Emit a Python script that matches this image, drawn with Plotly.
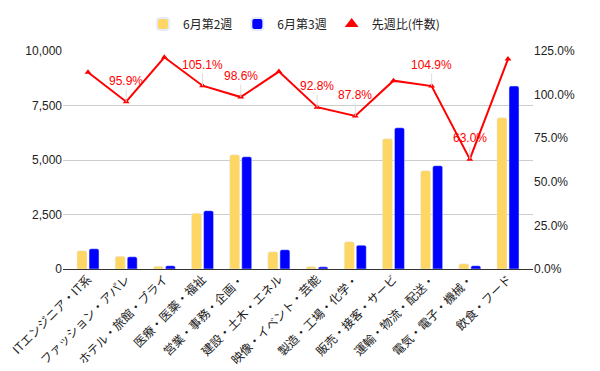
import plotly.graph_objects as go

categories = ["ITエンジニア・IT系", "ファッション・アパレ", "ホテル・旅館・ブライ", "医療・医薬・福祉",
              "営業・事務・企画・", "建設・土木・エネル", "映像・イベント・芸能", "製造・工場・化学・",
              "販売・接客・サービ", "運輸・物流・配送・", "電気・電子・機械・", "飲食・フード"]
week2 = [840, 580, 125, 2555, 5240, 795, 110, 1250, 5975, 4510, 240, 6940]
week3 = [930, 560, 150, 2675, 5150, 885, 100, 1095, 6480, 4740, 150, 8395]
ratio = [1.128, 0.959, 1.214, 1.051, 0.986, 1.132, 0.928, 0.878, 1.080, 1.049, 0.630, 1.204]
ratio_label_shown = [False, True, False, True, True, False, True, True, False, True, True, False]

CJK = "Noto Sans CJK JP, Arial, sans-serif"
NUM = "Arial, Liberation Sans, sans-serif"

fig = go.Figure()
fig.add_trace(go.Bar(x=categories, y=week2, name="6月第2週", marker=dict(color="#FDD663", cornerradius=2)))
fig.add_trace(go.Bar(x=categories, y=week3, name="6月第3週", marker=dict(color="#0000FF", cornerradius=2)))
fig.add_trace(go.Scatter(x=categories, y=ratio, name="先週比(件数)", yaxis="y2", mode="lines+markers",
                         line=dict(color="#FF0000", width=2), showlegend=False,
                         marker=dict(symbol="triangle-up", size=6, color="#FF0000")))
# legend entry for the line series (triangle symbol only)
fig.add_trace(go.Scatter(x=[None], y=[None], name="先週比(件数)", yaxis="y2", mode="markers",
                         marker=dict(symbol="triangle-up", size=11, color="#FF0000")))

for c, r, show in zip(categories, ratio, ratio_label_shown):
    if show:
        fig.add_annotation(x=c, y=r, yref="y2", text=f"{r*100:.1f}%", showarrow=True,
                           ax=0, ay=-21, arrowhead=0, arrowwidth=1, arrowcolor="#dddddd",
                           font=dict(color="#FF0000", size=12, family=NUM), yanchor="middle")

fig.update_layout(
    width=600, height=371,
    margin=dict(l=63, r=67, t=51, b=102, autoexpand=False),
    paper_bgcolor="white", plot_bgcolor="white",
    font=dict(family=CJK, size=12, color="#222222"),
    barmode="group", bargap=0.37, bargroupgap=0.17,
    showlegend=True,
    legend=dict(orientation="h", x=0.49, xref="container", xanchor="center",
                y=1 - 24 / 371, yref="container", yanchor="middle",
                font=dict(size=12, color="#222222"), itemsizing="constant"),
    xaxis=dict(range=[-0.655, 11.655], tickangle=-45, tickfont=dict(size=12, color="#222222", family=CJK),
               showgrid=False, ticks="", automargin=False),
    yaxis=dict(range=[0, 10000], tickvals=[0, 2500, 5000, 7500, 10000], tickformat=",d",
               gridcolor="#cccccc", zeroline=True, zerolinecolor="#333333", zerolinewidth=1,
               tickfont=dict(size=12, color="#222222", family=NUM), automargin=False),
    yaxis2=dict(range=[0, 1.25], tickvals=[0, 0.25, 0.5, 0.75, 1.0, 1.25], tickformat=".1%",
                overlaying="y", side="right", showgrid=False, zeroline=False,
                tickfont=dict(size=12, color="#222222", family=NUM), automargin=False),
)

fig.write_html("out.html", config={"displayModeBar": False},
               post_script="document.body.style.margin='0';")
